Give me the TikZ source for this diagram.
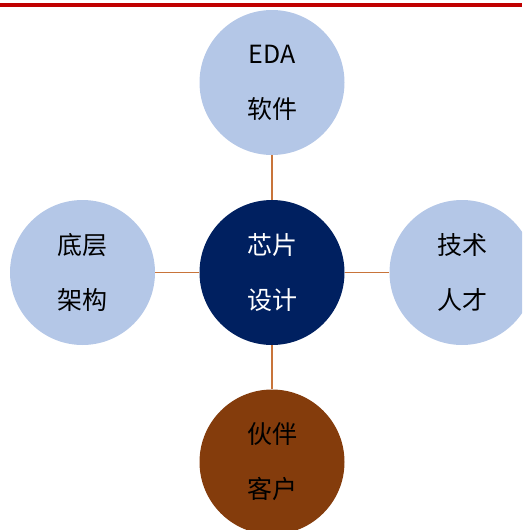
\documentclass[tikz,border=0pt]{standalone}
\usepackage{fontspec}
\setmainfont{Noto Sans CJK SC}
\definecolor{lightblue}{HTML}{B4C7E7}
\definecolor{navy}{HTML}{002060}
\definecolor{brown}{HTML}{843C0C}
\definecolor{linkc}{HTML}{C8743A}
\definecolor{topred}{HTML}{C00000}
\tikzset{
  bubble/.style={circle, minimum size=145pt, inner sep=0pt, align=center,
    font=\fontsize{25}{55}\selectfont},
  lightbubble/.style={bubble, fill=lightblue, text=black},
  link/.style={draw=linkc, line width=1.5pt}
}
\begin{document}
\begin{tikzpicture}[x=1pt,y=-1pt]
\useasboundingbox (0,0) rectangle (522,530);
\clip (0,0) rectangle (522,530);
\fill[topred] (0,3) rectangle (522,6.5);
\node[lightbubble] (eda) at (272,82.5) {EDA\\软件};
\node[lightbubble] (base) at (82.5,272.5) {底层\\架构};
\node[lightbubble] (tal) at (462,272.5) {技术\\人才};
\node[bubble, fill=navy, text=white] (core) at (272,272.5) {芯片\\设计};
\node[bubble, fill=brown, text=black] (part) at (272,462) {伙伴\\客户};
\draw[link] (eda) -- (core);
\draw[link] (base) -- (core);
\draw[link] (core) -- (tal);
\draw[link] (core) -- (part);
\end{tikzpicture}
\end{document}
